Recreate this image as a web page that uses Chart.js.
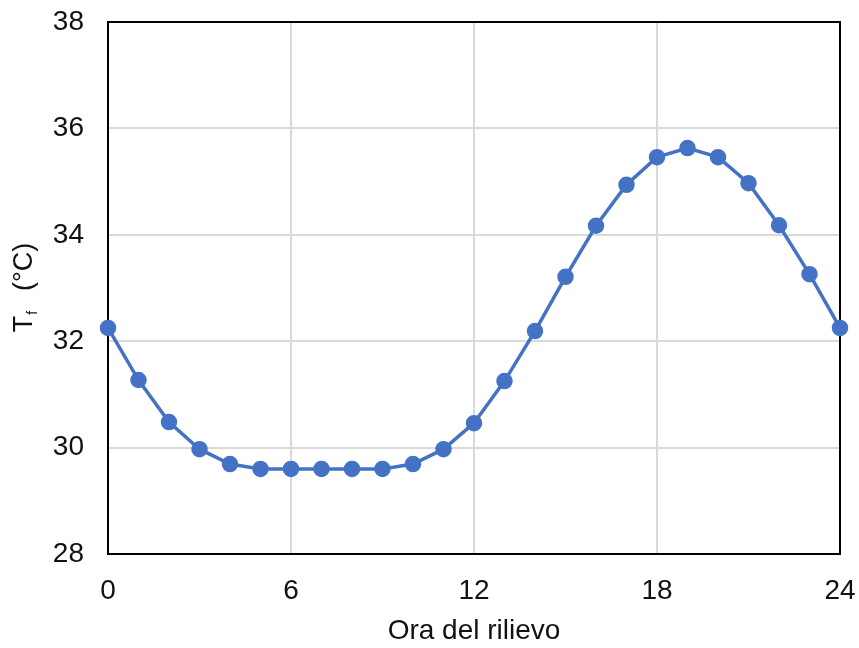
<!DOCTYPE html>
<html>
<head>
<meta charset="utf-8">
<script src="https://cdn.jsdelivr.net/npm/chart.js@4"></script>
<style>
  html, body { margin: 0; padding: 0; background: #fff; }
  #wrap { width: 859px; height: 648px; }
</style>
</head>
<body>
<div id="wrap"><canvas id="chart" width="859" height="648"></canvas></div>
<script>
// ore del rilievo e temperatura Tf
const ore = [0, 1, 2, 3, 4, 5, 6, 7, 8, 9, 10, 11, 12, 13, 14, 15, 16, 17, 18, 19, 20, 21, 22, 23, 24];
const temperatura = [32.25, 31.27, 30.48, 29.97, 29.69, 29.60, 29.60, 29.60, 29.60, 29.60, 29.69, 29.97,
                     30.46, 31.25, 32.19, 33.21, 34.17, 34.94, 35.46, 35.63, 35.46, 34.97, 34.18, 33.26, 32.25];
const xTicks = [0, 6, 12, 18, 24];
const yTicks = [28, 30, 32, 34, 36, 38];

const FONT = '"Liberation Sans", Arial, sans-serif';
const TESTO = '#111';

// cornice nera attorno all'area del grafico
const bordo = {
    id: 'bordo',
    beforeDatasetsDraw(chart) {
        const a = chart.chartArea;
        const ctx = chart.ctx;
        ctx.save();
        ctx.strokeStyle = '#000';
        ctx.lineWidth = 2;
        ctx.strokeRect(a.left, a.top, a.right - a.left, a.bottom - a.top);
        ctx.restore();
    }
};

// titolo asse y con pedice: T_f (°C)
const titoloY = {
    id: 'titoloY',
    afterDraw(chart) {
        const a = chart.chartArea;
        const ctx = chart.ctx;
        ctx.save();
        ctx.translate(25, (a.top + a.bottom) / 2);
        ctx.rotate(-Math.PI / 2);
        ctx.fillStyle = TESTO;
        ctx.textBaseline = 'middle';
        const big = '27px ' + FONT;
        const small = '14px ' + FONT;
        ctx.font = big;
        const wT = ctx.measureText('T').width;
        const wRest = ctx.measureText('(°C)').width;
        ctx.font = small;
        const wf = ctx.measureText('f').width;
        const gap = 20;
        const total = wT + wf + gap + wRest;
        let x = -total / 2;
        ctx.font = big;
        ctx.fillText('T', x, 0);
        x += wT + 1;
        ctx.font = small;
        ctx.fillText('f', x, 8);
        x += wf + gap;
        ctx.font = big;
        ctx.fillText('(°C)', x, 0);
        ctx.restore();
    }
};

const ctx = document.getElementById('chart').getContext('2d');
new Chart(ctx, {
    type: 'line',
    data: {
        datasets: [{
            data: ore.map((h, i) => ({ x: h, y: temperatura[i] })),
            borderColor: '#4472C4',
            backgroundColor: '#4472C4',
            borderWidth: 3.5,
            pointRadius: 6.5,
            pointHoverRadius: 6.5,
            tension: 0,
            clip: false
        }]
    },
    options: {
        responsive: false,
        animation: false,
        layout: { padding: { top: 22, right: 19, bottom: 0, left: 0 } },
        plugins: {
            legend: { display: false },
            tooltip: { enabled: false }
        },
        scales: {
            x: {
                type: 'linear',
                min: 0,
                max: 24,
                afterBuildTicks: s => { s.ticks = xTicks.map(v => ({ value: v })); },
                afterFit: s => {
                    s.height = 94;
                    s.paddingLeft = 0;
                    s.paddingRight = 0;
                },
                grid: { color: '#d9d9d9', lineWidth: 2, drawTicks: false },
                border: { display: false },
                ticks: { color: TESTO, font: { family: FONT, size: 28 }, padding: 20, maxRotation: 0 },
                title: {
                    display: true,
                    text: 'Ora del rilievo',
                    color: TESTO,
                    font: { family: FONT, size: 28 },
                    padding: { top: 0, bottom: 0 }
                }
            },
            y: {
                min: 28,
                max: 38,
                afterBuildTicks: s => { s.ticks = yTicks.map(v => ({ value: v })); },
                afterFit: s => {
                    s.width = 108;
                    s.paddingTop = 0;
                    s.paddingBottom = 0;
                },
                grid: { color: '#d9d9d9', lineWidth: 2, drawTicks: false },
                border: { display: false },
                ticks: { color: TESTO, font: { family: FONT, size: 28 }, padding: 24 }
            }
        }
    },
    plugins: [bordo, titoloY]
});
</script>
</body>
</html>
